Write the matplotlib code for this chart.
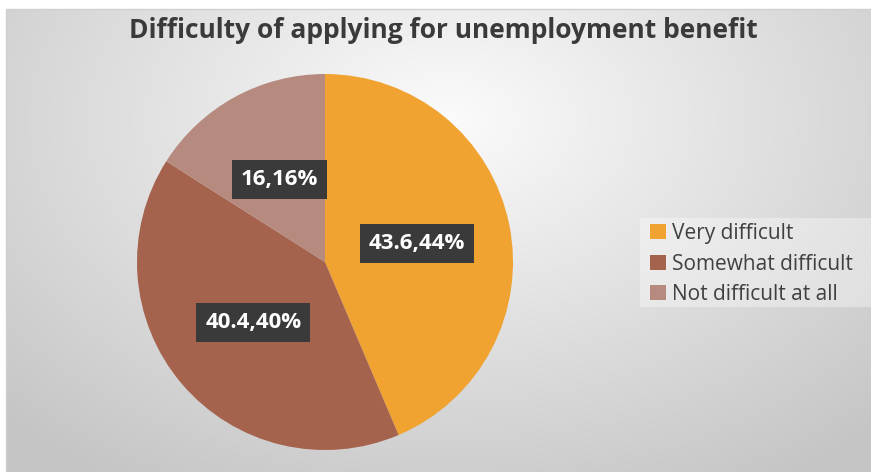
import numpy as np
import matplotlib
matplotlib.use("Agg")
import matplotlib.pyplot as plt
from matplotlib.patches import Patch

labels = ["Very difficult", "Somewhat difficult", "Not difficult at all"]
values = [43.6, 40.4, 16]
pct_text = ["43.6,44%", "40.4,40%", "16,16%"]
colors = ["#F0A330", "#A5634D", "#B68A7F"]

W, H = 871, 472
fig = plt.figure(figsize=(W / 100, H / 100), dpi=100)
plt.rcParams['font.family'] = ['Open Sans', 'DejaVu Sans']

# background panel with radial gradient
bg = fig.add_axes([6 / W, 0, 1 - 6 / W, 1 - 9 / H])
yy, xx = np.mgrid[0:H - 9, 0:W - 6]
d = np.sqrt(((xx - 440) / 620.0) ** 2 + ((yy - 110) / 420.0) ** 2)
d = np.clip(d, 0, 1)
g = 0.985 - 0.21 * d
bg.imshow(np.dstack([g, g, g]), aspect="auto", extent=[0, 1, 0, 1])
bg.set_xlim(0, 1)
bg.set_ylim(0, 1)
bg.axis("off")
fig.patches.append(plt.Rectangle((6 / W, 0), 1 - 6 / W, 1 - 9 / H, transform=fig.transFigure,
                                 fill=False, edgecolor="#D0D0D0", lw=1))
# legend band
fig.patches.append(plt.Rectangle((640 / W, 1 - 307 / H), 1 - 640 / W, 89 / H,
                                 transform=fig.transFigure, facecolor="white",
                                 alpha=0.35, edgecolor="none"))

# pie
ax = fig.add_axes([137 / W, 22 / H, 376 / W, 376 / H])
wedges, texts = ax.pie(values, colors=colors, startangle=90, counterclock=False,
                       labels=pct_text, labeldistance=0.5,
                       wedgeprops=dict(linewidth=0))
for t in texts:
    t.set_ha("center")
    t.set_va("center")
    t.set_color("white")
    t.set_fontweight("bold")
    t.set_fontsize(16)
    t.set_bbox(dict(boxstyle="square,pad=0.4", facecolor="#3A3A3A", edgecolor="none"))
ax.set_xlim(-1, 1)
ax.set_ylim(-1, 1)
ax.set_aspect("equal")

fig.text(443 / W, 1 - 30 / H, "Difficulty of applying for unemployment benefit",
         ha="center", va="center", fontsize=19, fontweight="bold", color="#3A3A3A")

handles = [Patch(facecolor=c, edgecolor="none") for c in colors]
leg = fig.legend(handles, labels, loc="center left", bbox_to_anchor=(640 / W, 1 - 264 / H),
                 frameon=False, fontsize=15, handlelength=0.75, handleheight=0.75,
                 handletextpad=0.3, labelspacing=0.45, borderpad=0.3, borderaxespad=0.2)
for t in leg.get_texts():
    t.set_color("#404040")

fig.savefig("out.png", dpi=100)
